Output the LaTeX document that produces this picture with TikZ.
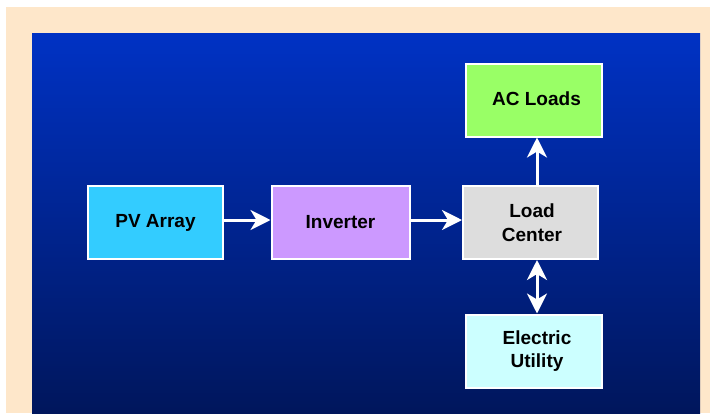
\documentclass[tikz,border=0pt]{standalone}
\usepackage{fontspec}
\setmainfont{Liberation Sans}
\usetikzlibrary{arrows.meta}
\definecolor{peach}{RGB}{254,231,202}
\definecolor{bluetop}{RGB}{0,50,196}
\definecolor{bluebot}{RGB}{0,22,92}
\definecolor{pvc}{RGB}{51,204,255}
\definecolor{invc}{RGB}{204,153,255}
\definecolor{lcc}{RGB}{221,221,221}
\definecolor{acc}{RGB}{153,255,102}
\definecolor{euc}{RGB}{204,255,255}
\begin{document}
\begin{tikzpicture}[x=1pt,y=-1pt,
  blk/.style={draw=white, line width=2pt, minimum width=135pt, minimum height=73pt,
    inner sep=0pt, align=center, font=\fontsize{19}{23.5}\selectfont\bfseries},
  conn/.style={draw=white, line width=3pt, -{Stealth[length=20pt,width=20pt,inset=6pt]}},
  dconn/.style={draw=white, line width=3pt, {Stealth[length=20pt,width=20pt,inset=6pt]}-{Stealth[length=20pt,width=20pt,inset=6pt]}}]
\useasboundingbox (0,0) rectangle (710,413);
\fill[white] (0,0) rectangle (710,413);
\fill[peach] (6,7) rectangle (710,413);
\shade[top color=bluetop, bottom color=bluebot] (32,33) rectangle (700,413);
\node[blk, fill=pvc] (pv) at (155.5,222.5) {\raisebox{2pt}{PV Array}};
\node[blk, fill=invc, minimum width=138pt] (inv) at (340.5,222.5) {\raisebox{2pt}{Inverter}};
\node[blk, fill=lcc] (lc) at (530.5,222.5) {\hspace*{3pt}Load\\\hspace*{3pt}Center};
\node[blk, fill=acc, minimum width=136pt] (ac) at (534,100) {\raisebox{2pt}{\hspace*{5pt}AC Loads}};
\node[blk, fill=euc, minimum width=136pt] (eu) at (534,351) {\hspace*{6pt}Electric\\\hspace*{6pt}Utility};
\draw[conn] (pv.east |- 0,220) -- (inv.west |- 0,220);
\draw[conn] (inv.east |- 0,220) -- (lc.west |- 0,220);
\draw[conn] (lc.north -| 537,0) -- (ac.south -| 537,0);
\draw[dconn] (lc.south -| 537,0) -- (eu.north -| 537,0);
\end{tikzpicture}
\end{document}
